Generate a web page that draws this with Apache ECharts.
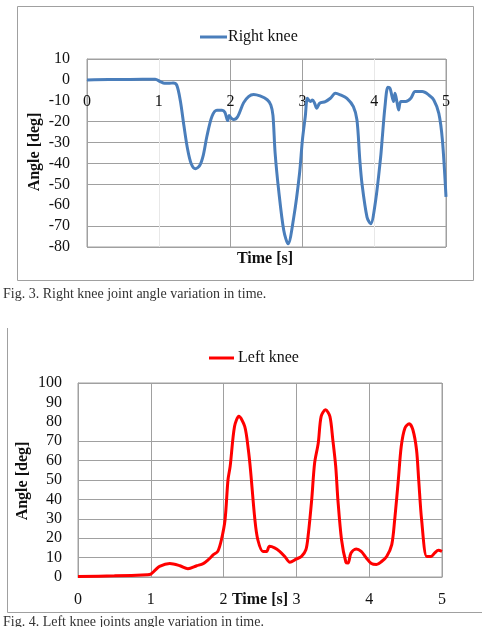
<!DOCTYPE html>
<html>
<head>
<meta charset="utf-8">
<script src="https://cdn.jsdelivr.net/npm/echarts@6/dist/echarts.min.js"></script>
<style>
  html, body { margin: 0; padding: 0; background: #fff; }
  #main { width: 487px; height: 627px; }
</style>
</head>
<body>
<div id="main"></div>
<script>
// Fig. 3 - right knee (time in s, angle in deg)
const rightTime = [0, 0.3, 0.6, 0.95, 1.02, 1.08, 1.15, 1.2, 1.25, 1.30, 1.35, 1.40, 1.45, 1.51,
  1.57, 1.62, 1.67, 1.74, 1.81, 1.88, 1.92, 1.96, 1.98, 2.0, 2.04, 2.1, 2.18, 2.25, 2.32, 2.41,
  2.51, 2.56, 2.59, 2.62, 2.67, 2.74, 2.80, 2.88, 2.96, 3.0, 3.04, 3.07, 3.11, 3.14, 3.17, 3.20,
  3.24, 3.32, 3.39, 3.46, 3.53, 3.62, 3.71, 3.76, 3.80, 3.83, 3.90, 3.95, 4.02, 4.09, 4.11, 4.15,
  4.19, 4.22, 4.27, 4.29, 4.32, 4.34, 4.37, 4.44, 4.51, 4.57, 4.67, 4.76, 4.83, 4.90, 4.95, 5.0];
const rightAngle = [0, 0.2, 0.2, 0.3, -0.8, -1.6, -1.6, -1.5, -2.5, -10, -22, -33, -40, -42.5,
  -41, -36, -27, -17.5, -14.5, -14.5, -15.5, -19.5, -17, -18, -19, -17.5, -11, -8, -7, -7.7,
  -9.5, -12, -17, -35, -53, -72, -78.5, -65.7, -44.8, -28.8, -17.6, -8.8, -10.4, -9.6, -11.2, -13.6,
  -11.2, -10.4, -8.8, -6.4, -7.2, -8.8, -12.8, -19.2, -38.5, -49.7, -65.7, -68.9, -57.7, -36.9, -28.8, -12.8,
  -3.5, -4, -10.4, -6.4, -11.2, -14.4, -10.4, -10.4, -8.8, -5.6, -5.6, -7.2, -9.6, -16, -28.8, -56];

// Fig. 4 - left knee
const leftTime = [0, 0.5, 0.95, 1.0, 1.06, 1.12, 1.26, 1.40, 1.51, 1.63, 1.72, 1.79, 1.86, 1.92,
  1.97, 2.02, 2.06, 2.09, 2.15, 2.21, 2.29, 2.34, 2.37, 2.43, 2.47, 2.54, 2.59, 2.63, 2.70, 2.77,
  2.84, 2.91, 3.00, 3.07, 3.13, 3.16, 3.21, 3.25, 3.30, 3.34, 3.40, 3.46, 3.50, 3.54, 3.57, 3.62,
  3.68, 3.71, 3.75, 3.82, 3.89, 3.96, 4.03, 4.10, 4.17, 4.24, 4.31, 4.35, 4.40, 4.44, 4.49, 4.55,
  4.60, 4.65, 4.68, 4.72, 4.79, 4.85, 4.90, 4.95, 5.0];
const leftAngle = [0.3, 0.6, 1.2, 1.5, 3.5, 5.5, 6.9, 5.8, 4.3, 5.8, 6.9, 8.9, 11.5, 13.2,
  19.2, 29.5, 50, 57, 77.6, 82.8, 77.6, 65.6, 55, 29.5, 19.2, 13.2, 13.2, 15.8, 15, 13.2,
  10.6, 7.6, 9.3, 10.6, 14, 20.9, 39.8, 58.7, 69, 82.8, 86.2, 82.8, 70.8, 57, 39.8, 19.2,
  7.6, 7.2, 12.4, 14.4, 13.2, 9.8, 6.9, 6.4, 8, 10.6, 16.7, 29.5, 50, 67.3, 76.7, 79,
  75.9, 65.6, 50, 29.5, 10.6, 10.6, 12.4, 13.8, 13.2];

const timeTicks = [0, 1, 2, 3, 4, 5];

const serif = 'Liberation Serif';
const gridGray = '#a0a0a0';
const none = 'rgba(0,0,0,0)';

const labelStyle = { fontFamily: serif, fontSize: 16, color: '#111' };

// top grid: 0 deg sits 10/90 of the height below the top, so shift the x axis up to it
const topGrid = { left: 87, top: 59, width: 359, height: 188 };
const zeroOffset = -topGrid.height * 80 / 90;

const chart = echarts.init(document.getElementById('main'));

chart.setOption({
  animation: false,
  backgroundColor: '#fff',
  legend: [
    {
      data: ['Right knee'], left: 195, top: 24,
      icon: 'rect', itemWidth: 27, itemHeight: 3, itemGap: 0,
      textStyle: { fontFamily: serif, fontSize: 16, color: '#111', padding: [0, 0, 0, -4] }
    },
    {
      data: ['Left knee'], left: 204, top: 345,
      icon: 'rect', itemWidth: 25, itemHeight: 3, itemGap: 0,
      textStyle: { fontFamily: serif, fontSize: 16, color: '#111', padding: [0, 0, 0, -1] }
    }
  ],
  grid: [
    Object.assign({ show: true, borderColor: gridGray, borderWidth: 1 }, topGrid),
    { left: 78, top: 383, width: 364, height: 194, show: true, borderColor: gridGray, borderWidth: 1 }
  ],
  xAxis: [
    {
      gridIndex: 0, type: 'value', min: 0, max: 5, interval: 1,
      position: 'bottom', offset: zeroOffset,
      axisLine: { onZero: false, lineStyle: { color: gridGray } },
      axisTick: { show: false },
      axisLabel: Object.assign({ margin: 14 }, labelStyle),
      splitLine: { lineStyle: { color: [gridGray, '#e8e8e8', gridGray, gridGray, '#e8e8e8', gridGray] } }
    },
    {
      gridIndex: 1, type: 'value', min: 0, max: 5, interval: 1,
      axisLine: { lineStyle: { color: gridGray } },
      axisTick: { show: false },
      axisLabel: Object.assign({ margin: 15 }, labelStyle),
      splitLine: { lineStyle: { color: gridGray } }
    }
  ],
  yAxis: [
    {
      gridIndex: 0, type: 'value', min: -80, max: 10, interval: 10,
      axisLine: { show: true, onZero: false, lineStyle: { color: gridGray } },
      axisTick: { show: false },
      axisLabel: Object.assign({ margin: 17 }, labelStyle),
      // -60 and -10 lines are missing in the original
      splitLine: { lineStyle: { color: [gridGray, gridGray, none, gridGray, gridGray, gridGray, gridGray, none, gridGray, gridGray] } }
    },
    {
      gridIndex: 1, type: 'value', min: 0, max: 100, interval: 10,
      axisLine: { show: true, lineStyle: { color: gridGray } },
      axisTick: { show: false },
      axisLabel: Object.assign({ margin: 16 }, labelStyle),
      splitLine: { lineStyle: { color: [gridGray, gridGray, gridGray, gridGray, gridGray, gridGray, gridGray, gridGray, none, none, gridGray] } }
    }
  ],
  series: [
    {
      name: 'Right knee', type: 'line', xAxisIndex: 0, yAxisIndex: 0,
      data: rightTime.map((t, i) => [t, rightAngle[i]]),
      showSymbol: false, smooth: 0.3,
      itemStyle: { color: '#4a7ebb' },
      lineStyle: { color: '#4a7ebb', width: 3 }
    },
    {
      name: 'Left knee', type: 'line', xAxisIndex: 1, yAxisIndex: 1,
      data: leftTime.map((t, i) => [t, leftAngle[i]]),
      showSymbol: false, smooth: 0.3,
      itemStyle: { color: '#ff0000' },
      lineStyle: { color: '#ff0000', width: 3 }
    }
  ],
  graphic: [
    // chart frames
    { type: 'rect', shape: { x: 17.5, y: 6.5, width: 456, height: 274 }, style: { fill: none, stroke: gridGray, lineWidth: 1 }, z: 0 },
    { type: 'polyline', shape: { points: [[7.5, 328], [7.5, 612.5], [482, 612.5]] }, style: { fill: none, stroke: gridGray, lineWidth: 1 }, z: 0 },
    // axis titles
    { type: 'text', x: 265, y: 259, style: { text: 'Time [s]', font: 'bold 16px "Liberation Serif"', fill: '#111', textAlign: 'center', textVerticalAlign: 'middle' } },
    { type: 'text', x: 35, y: 152, rotation: Math.PI / 2, style: { text: 'Angle [deg]', font: 'bold 16px "Liberation Serif"', fill: '#111', textAlign: 'center', textVerticalAlign: 'middle' } },
    { type: 'text', x: 260, y: 600, style: { text: 'Time [s]', font: 'bold 16px "Liberation Serif"', fill: '#111', textAlign: 'center', textVerticalAlign: 'middle' } },
    { type: 'text', x: 23, y: 481, rotation: Math.PI / 2, style: { text: 'Angle [deg]', font: 'bold 16px "Liberation Serif"', fill: '#111', textAlign: 'center', textVerticalAlign: 'middle' } },
    // captions
    { type: 'text', x: 3, y: 294, style: { text: 'Fig. 3. Right knee joint angle variation in time.', font: '14px "Liberation Serif"', fill: '#333', textAlign: 'left', textVerticalAlign: 'middle' } },
    { type: 'text', x: 3, y: 615, style: { text: 'Fig. 4. Left knee joints angle variation in time.', font: '14px "Liberation Serif"', fill: '#333', textAlign: 'left', textVerticalAlign: 'top' } }
  ]
});
</script>
</body>
</html>
